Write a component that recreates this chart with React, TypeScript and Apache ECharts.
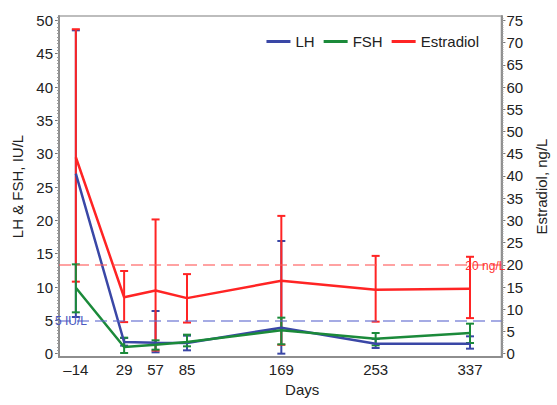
import React, { useEffect, useRef } from "react";
import * as echarts from "echarts";

const days = [-14, 29, 57, 85, 169, 253, 337];
const xTickLabels = [-14, 29, 57, 85, 169, 253, 337];

const lhMean = [27, 1.75, 1.65, 1.6, 3.9, 1.5, 1.5];
const lhLow = [5.5, 1.2, 0.2, 0.5, 0, 0.85, 0.75];
const lhHigh = [48.5, 2.35, 6.4, 2.7, 16.9, 2.2, 2.6];

const fshMean = [9.9, 1.0, 1.35, 1.75, 3.5, 2.25, 3.1];
const fshLow = [6.2, 0.1, 0.6, 1.1, 1.4, 1.25, 1.6];
const fshHigh = [13.4, 2.4, 2.0, 2.85, 5.4, 3.1, 4.5];

const e2Mean = [44.2, 12.7, 14.2, 12.5, 16.4, 14.4, 14.6];
const e2Low = [16.2, 7.1, 0.7, 7.0, 2.0, 7.2, 8.0];
const e2High = [73.0, 18.6, 30.2, 17.9, 31.0, 22.0, 21.8];

const leftTicks = [0, 5, 10, 15, 20, 25, 30, 35, 40, 45, 50];
const rightTicks = [0, 5, 10, 15, 20, 25, 30, 35, 40, 45, 50, 55, 60, 65, 70, 75];

const lhRef = 5;
const e2Ref = 20;

const BLUE = "#3A47A6";
const GREEN = "#1B8A3A";
const RED = "#FF2424";
const FONT = "'Liberation Sans', Arial, sans-serif";

function range(a: number, b: number, step: number) {
  const out: number[] = [];
  for (let v = a; v <= b + 1e-9; v += step) out.push(Math.round(v * 100) / 100);
  return out;
}

function errorSeries(name: string, low: number[], high: number[], color: string, yAxisIndex: number) {
  return {
    type: "custom",
    name: name + "-err",
    yAxisIndex,
    silent: true,
    z: 3,
    data: days.map((d, i) => [d, low[i], high[i]]),
    renderItem: (params: any, api: any) => {
      const x = api.value(0);
      const pLo = api.coord([x, api.value(1)]);
      const pHi = api.coord([x, api.value(2)]);
      const hw = 4;
      const st = { stroke: color, lineWidth: 2 };
      return {
        type: "group",
        children: [
          { type: "line", shape: { x1: pLo[0], y1: pLo[1], x2: pHi[0], y2: pHi[1] }, style: st },
          { type: "line", shape: { x1: pLo[0] - hw, y1: pLo[1], x2: pLo[0] + hw, y2: pLo[1] }, style: st },
          { type: "line", shape: { x1: pHi[0] - hw, y1: pHi[1], x2: pHi[0] + hw, y2: pHi[1] }, style: st },
        ],
      };
    },
  };
}

export default function App() {
  const ref = useRef<HTMLDivElement>(null);
  useEffect(() => {
    if (!ref.current) return;
    const chart = echarts.init(ref.current, undefined, { renderer: "svg" });
    const LMIN = -0.5, LMAX = 50.65;
    const RMIN = LMIN * 1.5, RMAX = LMAX * 1.5;
    const axisLineStyle = { color: "#8e8e8e", width: 2 };
    chart.setOption({
      animation: false,
      textStyle: { fontFamily: FONT },
      grid: { left: 59, right: 50, top: 16, bottom: 48, show: true, borderColor: "#a8a8a8", borderWidth: 1.5 },
      legend: {
        top: 29,
        right: 73,
        icon: "rect",
        itemWidth: 24,
        itemHeight: 3,
        itemGap: 9,
        textStyle: { fontSize: 15, color: "#222", fontFamily: FONT },
        data: ["LH", "FSH", "Estradiol"],
      },
      xAxis: {
        type: "value",
        min: -29,
        max: 365,
        name: "Days",
        nameLocation: "middle",
        nameGap: 24,
        nameTextStyle: { fontSize: 15, color: "#222", padding: [0, 0, 0, 44] },
        splitLine: { show: false },
        axisLine: { onZero: false, lineStyle: axisLineStyle },
        axisTick: { show: false },
        axisLabel: {
          customValues: xTickLabels,
          fontSize: 15,
          color: "#222",
          margin: 5,
          formatter: (v: number) => (v < 0 ? "\u2013" + Math.abs(v) : String(v)),
        },
      },
      yAxis: [
        {
          type: "value",
          position: "left",
          min: LMIN,
          max: LMAX,
          name: "LH & FSH, IU/L",
          nameLocation: "middle",
          nameRotate: 90,
          nameGap: 34,
          nameTextStyle: { fontSize: 15, color: "#222" },
          splitLine: { show: false },
          axisLine: { show: true, onZero: false, lineStyle: axisLineStyle },
          axisTick: { show: true, customValues: leftTicks, length: 4, lineStyle: { color: "#777" } },
          axisLabel: { customValues: leftTicks, fontSize: 15, color: "#222", margin: 6 },
        },
        {
          type: "value",
          position: "right",
          min: RMIN,
          max: RMAX,
          name: "Estradiol, ng/L",
          nameLocation: "middle",
          nameRotate: 90,
          nameGap: 30,
          nameTextStyle: { fontSize: 15, color: "#222" },
          splitLine: { show: false },
          axisLine: { show: true, onZero: false, lineStyle: axisLineStyle },
          axisTick: { show: true, customValues: rightTicks, length: 4, lineStyle: { color: "#777" } },
          axisLabel: { customValues: rightTicks, fontSize: 15, color: "#222", margin: 5 },
        },
        {
          type: "value",
          position: "left",
          min: LMIN,
          max: LMAX,
          splitLine: { show: false },
          axisLine: { show: false, onZero: false },
          axisTick: { show: true, customValues: range(0, 50.5, 0.5), length: 2, lineStyle: { color: "#999" } },
          axisLabel: { show: false },
        },
        {
          type: "value",
          position: "right",
          min: RMIN,
          max: RMAX,
          splitLine: { show: false },
          axisLine: { show: false, onZero: false },
          axisTick: { show: true, customValues: range(0, 75.5, 0.5), length: 2, lineStyle: { color: "#999" } },
          axisLabel: { show: false },
        },
      ],
      series: [
        errorSeries("LH", lhLow, lhHigh, BLUE, 0),
        errorSeries("Estradiol", e2Low, e2High, RED, 1),
        errorSeries("FSH", fshLow, fshHigh, GREEN, 0),
        {
          type: "line",
          name: "LH",
          yAxisIndex: 0,
          data: days.map((d, i) => [d, lhMean[i]]),
          symbol: "none",
          color: BLUE,
          lineStyle: { color: BLUE, width: 2.5 },
          z: 4,
          markLine: {
            silent: true,
            symbol: "none",
            lineStyle: { type: [12, 6], color: "rgba(95,105,205,0.75)", width: 1.5 },
            label: {
              formatter: "5 IU/L",
              position: "insideStartTop",
              distance: 0,
              offset: [-4, 7],
              color: "#4a58c0",
              fontSize: 12,
            },
            data: [{ yAxis: lhRef }],
          },
        },
        {
          type: "line",
          name: "FSH",
          yAxisIndex: 0,
          data: days.map((d, i) => [d, fshMean[i]]),
          symbol: "none",
          color: GREEN,
          lineStyle: { color: GREEN, width: 2.5 },
          z: 4,
        },
        {
          type: "line",
          name: "Estradiol",
          yAxisIndex: 1,
          data: days.map((d, i) => [d, e2Mean[i]]),
          symbol: "none",
          color: RED,
          lineStyle: { color: RED, width: 2.5 },
          z: 4,
          markLine: {
            silent: true,
            symbol: "none",
            lineStyle: { type: [12, 6], color: "rgba(255,90,90,0.75)", width: 1.5 },
            label: {
              formatter: "20 ng/L",
              position: "insideEndTop",
              distance: 0,
              offset: [4, 7],
              color: "#ff3030",
              fontSize: 12,
            },
            data: [{ yAxis: e2Ref }],
          },
        },
      ],
    });
    return () => chart.dispose();
  }, []);
  return <div ref={ref} style={{ position: "absolute", left: 0, top: 0, width: 557, height: 405 }} />;
}
